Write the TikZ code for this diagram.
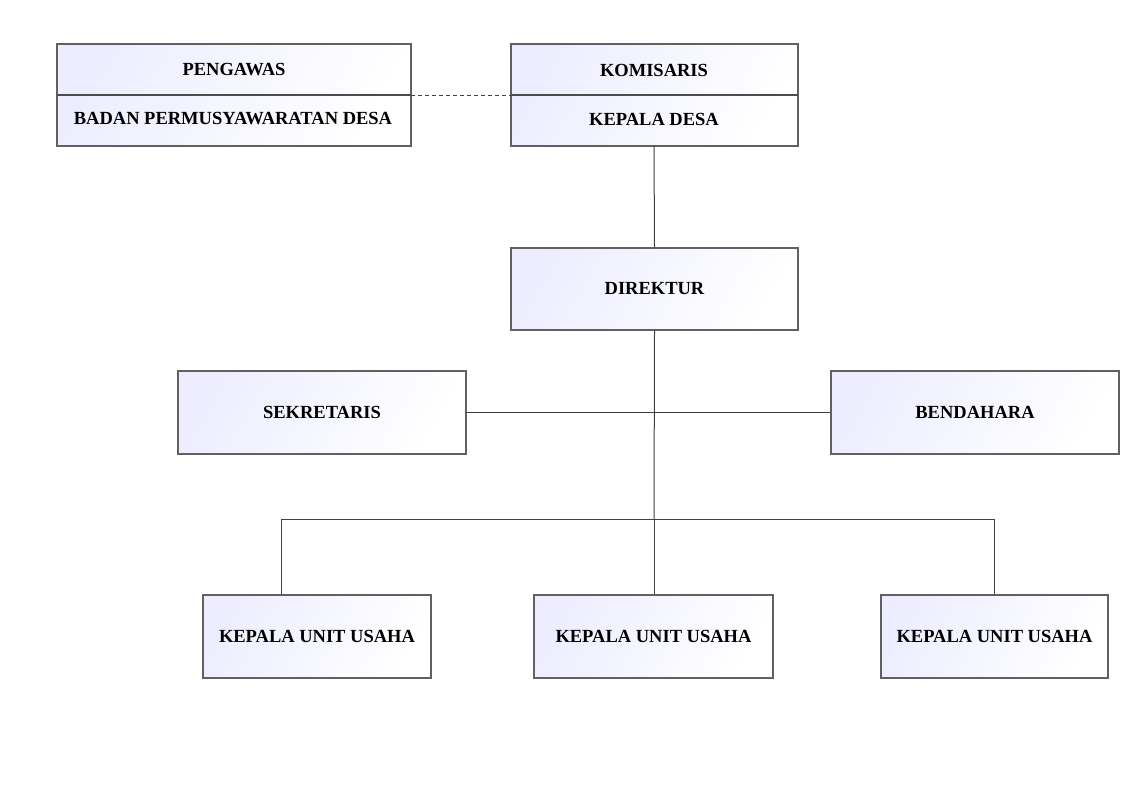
\documentclass[tikz,border=0pt]{standalone}
\usepackage{fontspec}
\setmainfont{Liberation Serif}
\begin{document}
\begin{tikzpicture}[x=1pt,y=-1pt,
  box/.style={draw=black!62, line width=1.2pt, left color=blue!7, right color=white, shading angle=60},
  lbl/.style={font=\fontsize{18.5}{20}\selectfont\bfseries, inner sep=0pt},
  conn/.style={draw=black!75, line width=1pt}]
\useasboundingbox (0,0) rectangle (1142,798);
% top boxes
\path[box] (57,44) rectangle (411,146);
\draw[draw=black!70, line width=1.2pt] (57,95) -- (411,95);
\path[box] (511,44) rectangle (798,146);
\draw[draw=black!70, line width=1.2pt] (511,95) -- (798,95);
\node[lbl] (peng) at (234,70) {PENGAWAS};
\node[lbl] (bpd) at (233,119) {BADAN PERMUSYAWARATAN DESA};
\node[lbl] (kom) at (654,70) {KOMISARIS};
\node[lbl] (kades) at (654,119) {KEPALA DESA};
\coordinate (pR) at (411,95);
\coordinate (kL) at (511,95);
\coordinate (kB) at (654,146);
% direktur
\node[box, minimum width=287pt, minimum height=82pt, inner sep=0pt] (dir) at (654.5,289) {};
\node[lbl] at (dir) {DIREKTUR};
\node[box, minimum width=288pt, minimum height=83pt, inner sep=0pt] (sek) at (322,412.5) {};
\node[lbl] at (sek) {SEKRETARIS};
\node[box, minimum width=288pt, minimum height=83pt, inner sep=0pt] (ben) at (975,412.5) {};
\node[lbl] at (ben) {BENDAHARA};
\node[box, minimum width=228pt, minimum height=83pt, inner sep=0pt] (u1) at (317,636.5) {};
\node[lbl] at (u1) {KEPALA UNIT USAHA};
\node[box, minimum width=239pt, minimum height=83pt, inner sep=0pt] (u2) at (653.5,636.5) {};
\node[lbl] at (u2) {KEPALA UNIT USAHA};
\node[box, minimum width=227pt, minimum height=83pt, inner sep=0pt] (u3) at (994.5,636.5) {};
\node[lbl] at (u3) {KEPALA UNIT USAHA};
\coordinate (j2) at (654,519);
\coordinate (l1) at (281,519);
% connectors
\draw[conn, dashed, dash pattern=on 4pt off 3pt] (pR) -- (kL);
\draw[conn] (kB) -- (dir.north);
\draw[conn] (dir.south) -- (j2);
\draw[conn] (sek.east) -- (ben.west);
\draw[conn] (u1.north -| l1) -- (l1) -- (j2);
\draw[conn] (j2) -| (u3.north);
\draw[conn] (j2) -- (u2.north -| j2);
\end{tikzpicture}
\end{document}
